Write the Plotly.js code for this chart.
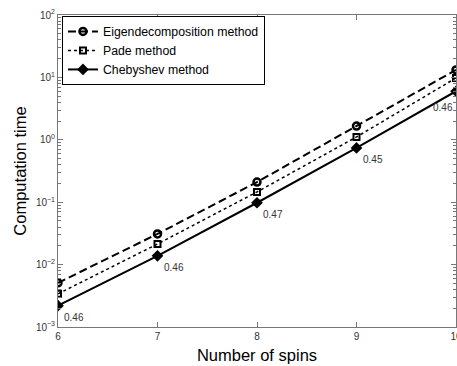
<!DOCTYPE html>
<html>
<head>
<meta charset="utf-8">
<script src="https://cdn.plot.ly/plotly-3.0.1.min.js"></script>
<style>html,body{margin:0;padding:0;background:#fff;}#chart{width:457px;height:366px;}</style>
</head>
<body>
<div id="chart"></div>
<script>
var spins = [6, 7, 8, 9, 10];
var eigen = [0.0051, 0.031, 0.21, 1.66, 13.2];
var pade = [0.0034, 0.0214, 0.146, 1.11, 9.8];
var cheb = [0.0022, 0.0138, 0.098, 0.74, 6.0];
var ratioLabels = ["0.46", "0.46", "0.47", "0.45", "0.46"];
var yTickVals = [0.001, 0.01, 0.1, 1, 10, 100];
var yTickText = ["10<sup>\u22123</sup>", "10<sup>\u22122</sup>", "10<sup>\u22121</sup>", "10<sup>0</sup>", "10<sup>1</sup>", "10<sup>2</sup>"];

var traces = [
  {x: spins, y: eigen, name: "Eigendecomposition method", mode: "lines+markers",
   line: {color: "#000", width: 2, dash: "8px,4px"},
   marker: {symbol: "circle-open", size: 7, color: "#000", line: {width: 2.5, color: "#000"}}},
  {x: spins, y: pade, name: "Pade method", mode: "lines+markers",
   line: {color: "#000", width: 1.5, dash: "dot"},
   marker: {symbol: "square-open", size: 6, color: "#000", line: {width: 2, color: "#000"}}},
  {x: spins, y: cheb, name: "Chebyshev method", mode: "lines+markers",
   line: {color: "#000", width: 2},
   marker: {symbol: "diamond", size: 9, color: "#000"}}
];

var annotations = spins.map(function (s, i) {
  var last = i === spins.length - 1;
  return {x: s, y: Math.log10(cheb[i]), xref: "x", yref: "y", text: ratioLabels[i],
    showarrow: false, xanchor: last ? "right" : "left", yanchor: "top",
    xshift: last ? -1 : 4, yshift: last ? -9 : -4,
    font: {family: "Liberation Sans, Arial, sans-serif", size: 10, color: "#333"}};
});

var layout = {
  width: 457, height: 366,
  margin: {l: 58, r: 1, t: 15, b: 39},
  paper_bgcolor: "#fff", plot_bgcolor: "#fff",
  font: {family: "Liberation Sans, Arial, sans-serif", color: "#000"},
  showlegend: true,
  legend: {x: 0.01, y: 0.997, xanchor: "left", yanchor: "top", bgcolor: "#fff",
    bordercolor: "#000", borderwidth: 1, font: {size: 12.3, color: "#000"},
    tracegroupgap: 0, itemwidth: 30},
  xaxis: {range: [6, 10], dtick: 1, tick0: 6, showgrid: false, zeroline: false,
    showline: true, linecolor: "#777", linewidth: 1, mirror: "ticks",
    ticks: "inside", ticklen: 5, tickcolor: "#777", ticklabeloverflow: "allow",
    tickfont: {size: 10, color: "#333"},
    title: {text: "Number of spins", font: {size: 16.5, color: "#000"}, standoff: 8}},
  yaxis: {type: "log", range: [-3, 2], tickvals: yTickVals, ticktext: yTickText,
    showgrid: false, zeroline: false,
    showline: true, linecolor: "#777", linewidth: 1, mirror: "ticks",
    ticks: "inside", ticklen: 5, tickcolor: "#777",
    tickfont: {size: 10, color: "#333"},
    minor: {ticks: "inside", ticklen: 3, tickcolor: "#777", showgrid: false, dtick: "D1"},
    title: {text: "Computation time", font: {size: 16.5, color: "#000"}, standoff: 5}},
  annotations: annotations
};

Plotly.newPlot("chart", traces, layout, {staticPlot: true, displayModeBar: false});
</script>
</body>
</html>
